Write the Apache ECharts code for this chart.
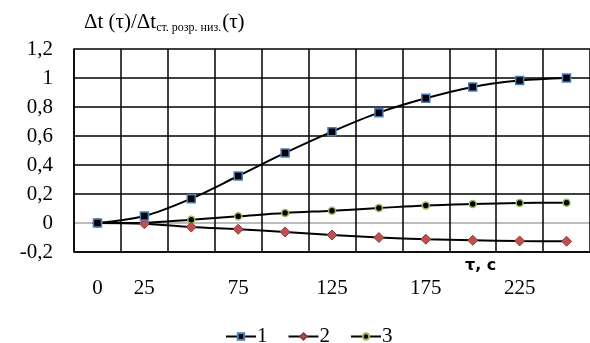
<!DOCTYPE html>
<html>
<head>
<meta charset="utf-8">
<script src="https://cdn.jsdelivr.net/npm/echarts@6/dist/echarts.min.js"></script>
<style>
  html, body { margin: 0; padding: 0; background: #fff; }
  #chart { width: 590px; height: 343px; }
</style>
</head>
<body>
<div id="chart"></div>
<script>
// Time, s
const tau = ['0', '25', '50', '75', '100', '125', '150', '175', '200', '225', '250'];
// Relative temperature difference, curves 1–3
const curve1 = [0, 0.048, 0.168, 0.324, 0.483, 0.630, 0.761, 0.860, 0.938, 0.982, 1.0];
const curve2 = [0, -0.005, -0.028, -0.043, -0.062, -0.083, -0.100, -0.112, -0.119, -0.124, -0.126];
const curve3 = [0, 0.002, 0.023, 0.046, 0.069, 0.085, 0.103, 0.121, 0.131, 0.138, 0.140];
const seriesNames = ['1', '2', '3'];
// Which time labels are printed under the axis
const shownTicks = ['0', '25', '75', '125', '175', '225'];

const serif = '"Liberation Serif", "Times New Roman", serif';

const chart = echarts.init(document.getElementById('chart'));

function lineSeries(name, data, symbol, size, fill, border, borderWidth) {
  return {
    name: name,
    type: 'line',
    data: data,
    smooth: 0.35,
    symbol: symbol,
    symbolSize: size,
    showAllSymbol: true,
    lineStyle: { color: '#000', width: 2 },
    itemStyle: { color: fill, borderColor: border, borderWidth: borderWidth },
    emphasis: { disabled: true },
    animation: false
  };
}

chart.setOption({
  animation: false,
  backgroundColor: '#fff',
  grid: { left: 74, top: 49, width: 526, height: 203 },
  graphic: [
    {
      type: 'text',
      left: 84,
      top: 10,
      style: {
        text: '{a|Δt (τ)/Δt}{s|ст. розр. низ.}{a|(τ)}',
        rich: {
          a: { fontFamily: serif, fontSize: 21, fill: '#000', lineHeight: 26 },
          s: { fontFamily: serif, fontSize: 12, fill: '#000', lineHeight: 26, padding: [12, 1, 0, 0] }
        }
      }
    },
    {
      type: 'text',
      left: 465,
      top: 258,
      style: {
        text: 'τ, с',
        fontFamily: '"DejaVu Sans", sans-serif',
        fontWeight: 'bold',
        fontSize: 16,
        fill: '#000'
      }
    }
  ],
  legend: {
    data: seriesNames,
    left: 220,
    top: 321,
    itemWidth: 30,
    itemHeight: 8,
    itemGap: 20,
    textStyle: { fontFamily: serif, fontSize: 21, color: '#000', padding: [0, 0, 0, -4] }
  },
  xAxis: {
    type: 'category',
    data: tau,
    boundaryGap: true,
    axisLine: { show: true, onZero: false, lineStyle: { color: '#000', width: 1.5 } },
    axisTick: { show: false },
    axisLabel: {
      interval: function (index, value) { return shownTicks.indexOf(value) >= 0; },
      margin: 26,
      fontFamily: serif,
      fontSize: 21,
      color: '#000'
    },
    splitLine: { show: true, interval: 0, lineStyle: { color: '#000', width: 1.5 } }
  },
  yAxis: {
    type: 'value',
    min: -0.2,
    max: 1.2,
    interval: 0.2,
    axisLine: { show: true, lineStyle: { color: '#000', width: 1.5 } },
    axisTick: { show: false },
    axisLabel: {
      margin: 21,
      fontFamily: serif,
      fontSize: 21,
      color: '#000',
      formatter: function (v) { return String(+v.toFixed(1)).replace('.', ','); }
    },
    splitLine: {
      show: true,
      lineStyle: { color: ['#000', '#a6a6a6', '#000', '#000', '#000', '#000', '#000', '#000'], width: 1.5 }
    }
  },
  series: [
    lineSeries('3', curve3, 'circle', 7, '#000', '#9bbb59', 1.5),
    lineSeries('2', curve2, 'diamond', 10, '#c0504d', '#8b3a38', 1),
    lineSeries('1', curve1, 'rect', 8, '#000', '#4a7ebb', 1.5)
  ]
});
</script>
</body>
</html>
